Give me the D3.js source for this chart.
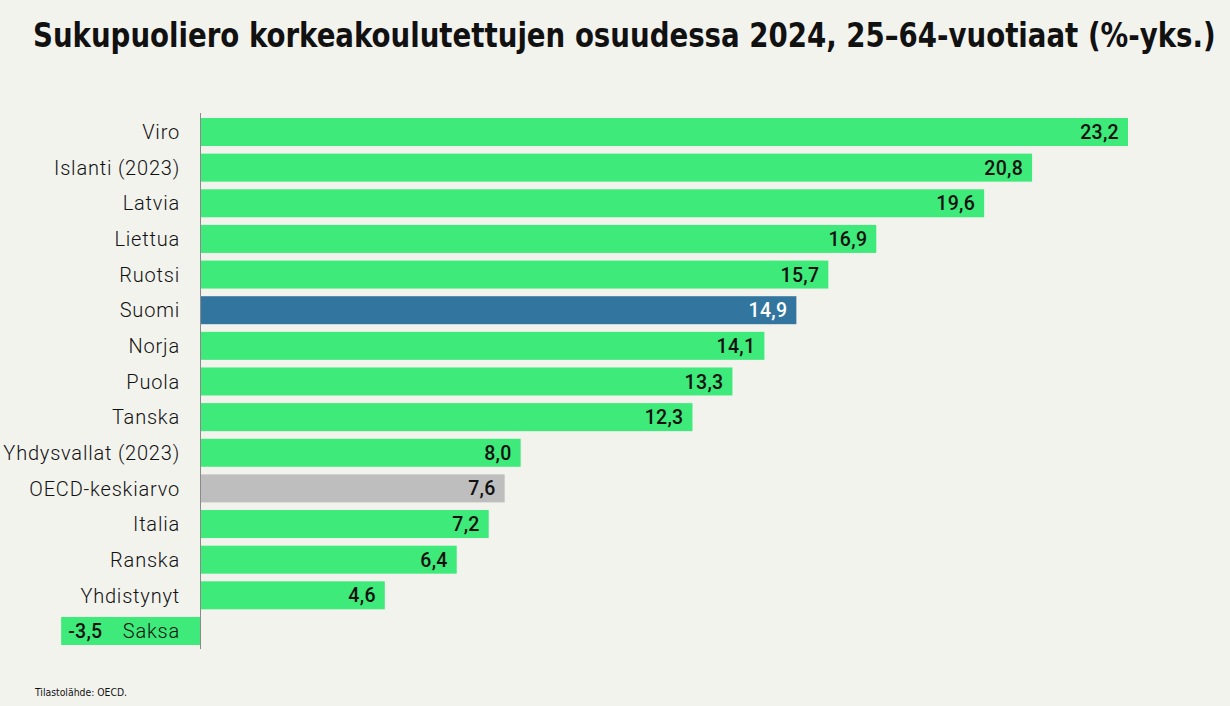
<!DOCTYPE html>
<html><head><meta charset="utf-8">
<script src="https://cdn.jsdelivr.net/npm/d3@7"></script>
<style>
html,body{margin:0;padding:0;background:#f3f3ee;}
svg{display:block;}
</style></head>
<body>
<script>
const categories = ["Viro","Islanti (2023)","Latvia","Liettua","Ruotsi","Suomi","Norja","Puola","Tanska","Yhdysvallat (2023)","OECD-keskiarvo","Italia","Ranska","Yhdistynyt","Saksa"];
const values = [23.2,20.8,19.6,16.9,15.7,14.9,14.1,13.3,12.3,8.0,7.6,7.2,6.4,4.6,-3.5];
const title = "Sukupuoliero korkeakoulutettujen osuudessa 2024, 25–64-vuotiaat (%-yks.)";
const source = "Tilastolähde: OECD.";

const W = 1230, H = 706;
const colorOf = c => c === "Suomi" ? "#32769f" : c === "OECD-keskiarvo" ? "#bebebe" : "#3eea79";

const svg = d3.select("body").append("svg").attr("width", W).attr("height", H);
svg.append("rect").attr("width", W).attr("height", H).attr("fill", "#f3f3ee");

const data = categories.map((c, i) => ({c, v: values[i]}));
const x = d3.scaleLinear().domain([0, 23.2]).range([201, 1128]);
const y = d3.scaleBand().domain(categories).range([110.36, 652.6]).padding(0.2145);

const tg = svg.append("g");
const tt = tg.append("text").attr("x", 0).attr("y", 0)
  .attr("font-family", "'DejaVu Sans Condensed', sans-serif")
  .attr("font-weight", "bold").attr("font-size", 34)
  .attr("fill", "#111").text(title);
const tw = tt.node().getComputedTextLength();
tg.attr("transform", `translate(33,47) scale(${1183 / tw},1)`);

svg.selectAll("rect.bar").data(data).enter().append("rect")
  .attr("class", "bar")
  .attr("x", d => Math.min(x(0), x(d.v)))
  .attr("width", d => Math.abs(x(d.v) - x(0)))
  .attr("y", d => y(d.c)).attr("height", y.bandwidth())
  .attr("fill", d => colorOf(d.c));

svg.append("line").attr("x1", x(0) - 0.5).attr("x2", x(0) - 0.5)
  .attr("y1", 113).attr("y2", 649).attr("stroke", "#8a8a8a").attr("stroke-width", 1);

svg.selectAll("text.cat").data(data).enter().append("text")
  .attr("class", "cat")
  .attr("x", x(0) - 21).attr("y", d => y(d.c) + y.bandwidth() / 2)
  .attr("dy", "0.36em").attr("text-anchor", "end")
  .attr("font-family", "Roboto, sans-serif").attr("font-weight", 300)
  .attr("font-size", 20).attr("letter-spacing", 0.8).attr("fill", "#111").text(d => d.c);

const fmt = v => d3.format(".1f")(v).replace(".", ",").replace("−", "-");
svg.selectAll("text.val").data(data).enter().append("text")
  .attr("class", "val")
  .attr("x", d => d.v >= 0 ? x(d.v) - 9 : x(d.v) + 7)
  .attr("y", d => y(d.c) + y.bandwidth() / 2)
  .attr("dy", "0.36em").attr("text-anchor", d => d.v >= 0 ? "end" : "start")
  .attr("font-family", "Roboto, sans-serif").attr("font-weight", 500)
  .attr("font-size", 19.5).attr("letter-spacing", 0.3).attr("fill", d => d.c === "Suomi" ? "#ffffff" : "#111")
  .text(d => fmt(d.v));

svg.append("text").attr("x", 35).attr("y", 696)
  .attr("font-family", "'DejaVu Sans Condensed', sans-serif")
  .attr("font-size", 10).attr("fill", "#111")
  .attr("textLength", 92).attr("lengthAdjust", "spacingAndGlyphs")
  .text(source);
</script>
</body></html>
